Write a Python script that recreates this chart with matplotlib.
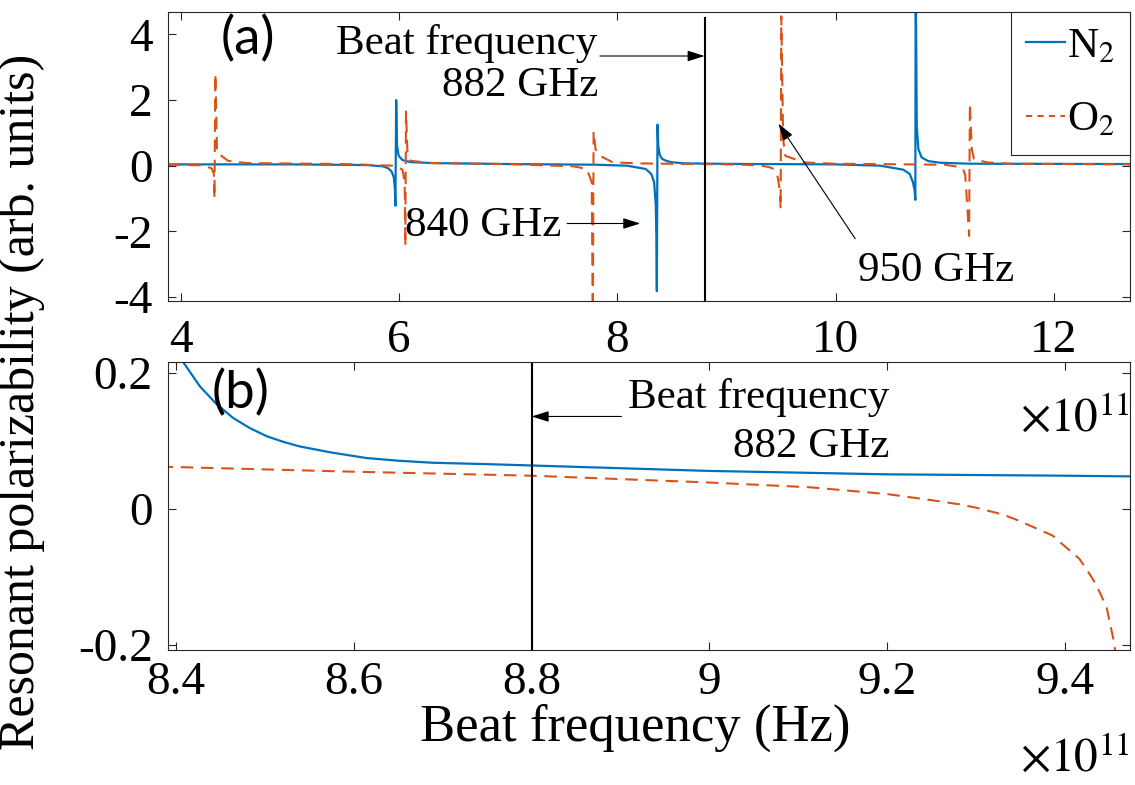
import matplotlib
matplotlib.use('Agg')
import matplotlib.pyplot as plt
from matplotlib.lines import Line2D
from matplotlib.ticker import FuncFormatter

plt.rcParams['font.family'] = ['Liberation Serif', 'DejaVu Serif']
plt.rcParams['mathtext.fontset'] = 'stix'
plt.rcParams['axes.unicode_minus'] = False

# frequency in units of 1e11 Hz, polarizability in arb. units
n2_freq = [3.88, 5.00, 5.70, 5.85, 5.90, 5.93, 5.95, 5.96, 5.965, 5.972, 5.98, 5.995, 6.03, 6.10, 6.30,
           7.00, 7.80, 8.09, 8.26, 8.31, 8.337, 8.352, 8.358, 8.362, 8.368, 8.375, 8.39,
           8.408, 8.427, 8.445, 8.464, 8.483, 8.502, 8.520, 8.539, 8.575, 8.614, 8.650, 8.689,
           8.75, 8.80, 9.00, 9.20, 9.40, 9.473,
           10.00, 10.41, 10.62, 10.68, 10.71, 10.725, 10.732, 10.735, 10.745, 10.76, 10.79,
           10.85, 10.96, 11.24, 12.70]
n2_pol = [0.04, 0.04, 0.02, -0.02, -0.08, -0.18, -0.35, -0.70, -1.22, 2.00, 0.60, 0.30, 0.17, 0.11, 0.08,
          0.05, 0.03, 0.00, -0.10, -0.25, -0.50, -1.20, -2.20, -3.82, 1.25, 0.60, 0.32,
          0.216, 0.180, 0.155, 0.134, 0.119, 0.107, 0.099, 0.092, 0.083, 0.075, 0.071, 0.068,
          0.066, 0.064, 0.056, 0.051, 0.049, 0.048,
          0.04, 0.00, -0.12, -0.25, -0.50, -0.75, -1.04, 6.0, 1.20, 0.50, 0.25,
          0.14, 0.09, 0.06, 0.05]

o2_freq = [3.88, 4.20, 4.28, 4.30, 4.306, 4.314, 4.33, 4.43, 4.60, 5.50,
           5.95, 6.03, 6.05, 6.056, 6.062, 6.075, 6.10, 6.30, 7.00,
           7.60, 7.72, 7.765, 7.775, 7.782, 7.80, 7.84, 7.96, 8.20,
           8.391, 8.595, 8.80, 9.00, 9.113, 9.20, 9.25, 9.281, 9.30, 9.33, 9.344, 9.36, 9.386,
           9.40, 9.416, 9.425, 9.433, 9.44, 9.447, 9.45, 9.455,
           9.47, 9.49, 9.497, 9.503, 9.52, 9.54, 9.71, 10.00,
           11.00, 11.12, 11.17, 11.19, 11.225, 11.232, 11.25, 11.27, 11.39, 11.60, 12.70]
o2_pol = [0.03, 0.01, -0.08, -0.25, -1.00, 2.80, 0.40, 0.15, 0.08, 0.05,
          0.00, -0.12, -0.50, -2.45, 1.65, 0.45, 0.15, 0.08, 0.05,
          -0.02, -0.10, -0.50, -5.0, 1.04, 0.50, 0.30, 0.10, 0.07,
          0.062, 0.055, 0.049, 0.039, 0.032, 0.022, 0.013, 0.007, 0.002, -0.008, -0.015, -0.024, -0.039,
          -0.055, -0.073, -0.090, -0.107, -0.125, -0.146, -0.165, -0.195,
          -0.35, -0.75, -1.31, 4.55, 0.80, 0.30, 0.10, 0.06,
          0.03, -0.03, -0.10, -0.30, -2.14, 1.89, 0.50, 0.20, 0.10, 0.06, 0.04]

beat_freq = 8.8
top_xticks = [4, 6, 8, 10, 12]
top_yticks = [-4, -2, 0, 2, 4]
bot_xticks = [8.4, 8.6, 8.8, 9.0, 9.2, 9.4]
bot_yticks = [-0.2, 0, 0.2]

BLUE = '#0072BD'
RED = '#D95319'
AX = '#262626'

W, H = 1135, 785
fig = plt.figure(figsize=(W / 100, H / 100), dpi=100)
ax1 = fig.add_axes([168 / W, (H - 301) / H, 962 / W, 289 / H])
ax2 = fig.add_axes([168 / W, (H - 650) / H, 962 / W, 288 / H])

fmt = FuncFormatter(lambda v, p: '%g' % v)
for ax in (ax1, ax2):
    ax.plot(n2_freq, n2_pol, color=BLUE, lw=1.6, label='N$_2$')
    ax.plot(o2_freq, o2_pol, color=RED, lw=1.5, ls=(0, (6, 3.7)), label='O$_2$')
    ax.tick_params(direction='in', length=6, width=0.8, color=AX, labelsize=34,
                   top=True, right=True, pad=11)
    ax.xaxis.set_major_formatter(fmt)
    ax.yaxis.set_major_formatter(fmt)
    for s in ax.spines.values():
        s.set_color(AX)
        s.set_linewidth(0.8)

# (a) full range
ax1.plot([beat_freq, beat_freq], [-5, 4.5], color='k', lw=1.5)
ax1.set_xlim(3.88, 12.70)
ax1.set_ylim(-4.12, 4.68)
ax1.set_xticks(top_xticks)
ax1.set_yticks(top_yticks)
ax1.tick_params(axis='x', pad=13)

ax1.text(4.36, 3.86, '(a)', family='Lato', fontsize=38, ha='left', va='center')
ax1.text(7.82, 3.40, 'Beat frequency', fontsize=31, ha='right', va='baseline')
ax1.text(7.83, 2.13, '882 GHz', fontsize=31, ha='right', va='baseline')
ax1.text(6.05, -2.13, '840 GHz', fontsize=31, ha='left', va='baseline')
ax1.text(10.21, -3.50, '950 GHz', fontsize=31, ha='left', va='baseline')

arrow = dict(arrowstyle='-|>,head_length=0.7,head_width=0.22', lw=0.8, color='k',
             mutation_scale=15, shrinkA=0, shrinkB=0)
ax1.annotate('', xy=(beat_freq, 3.34), xytext=(7.84, 3.34), arrowprops=arrow)
ax1.annotate('', xy=(8.21, -1.76), xytext=(7.54, -1.76), arrowprops=arrow)
ax1.annotate('', xy=(9.477, 1.28), xytext=(10.18, -2.22), arrowprops=arrow)

leg_handles = [Line2D([], [], color=BLUE, lw=1.6),
               Line2D([], [], color=RED, lw=1.5, ls=(0, (3, 2.5)))]
leg = ax1.legend(leg_handles, ['N$_2$', 'O$_2$'], loc='upper right', borderaxespad=0,
                 fancybox=False, framealpha=1, edgecolor=AX, fontsize=31,
                 handlelength=0.9, handletextpad=0.05, labelspacing=0.8, borderpad=0.35)
leg.get_frame().set_linewidth(0.8)

# (b) zoom around the beat frequency
ax2.axvline(beat_freq, color='k', lw=1.5)
ax2.set_xlim(8.391, 9.473)
ax2.set_ylim(-0.207, 0.216)
ax2.set_xticks(bot_xticks)
ax2.set_yticks(bot_yticks)
ax2.tick_params(axis='x', pad=8)

ax2.text(8.44, 0.17, '(b)', family='Lato', fontsize=38, ha='left', va='center')
ax2.text(9.202, 0.149, 'Beat frequency', fontsize=31, ha='right', va='baseline')
ax2.text(9.202, 0.076, '882 GHz', fontsize=31, ha='right', va='baseline')
ax2.annotate('', xy=(beat_freq, 0.136), xytext=(8.901, 0.136), arrowprops=arrow)

# exponent labels and shared axis labels
fig.text(1130 / W, 1 - 432 / H, r'$\times10^{11}$', fontsize=34, ha='right', va='baseline')
fig.text(1130 / W, 1 - 772 / H, r'$\times10^{11}$', fontsize=34, ha='right', va='baseline')
fig.text(635 / W, 1 - 728 / H, 'Beat frequency (Hz)', fontsize=38, ha='center', va='center')
fig.text(22 / W, 1 - 402 / H, 'Resonant polarizability (arb. units)', fontsize=36,
         rotation=90, ha='center', va='center')

fig.savefig('out.png', dpi=100, facecolor='white')
